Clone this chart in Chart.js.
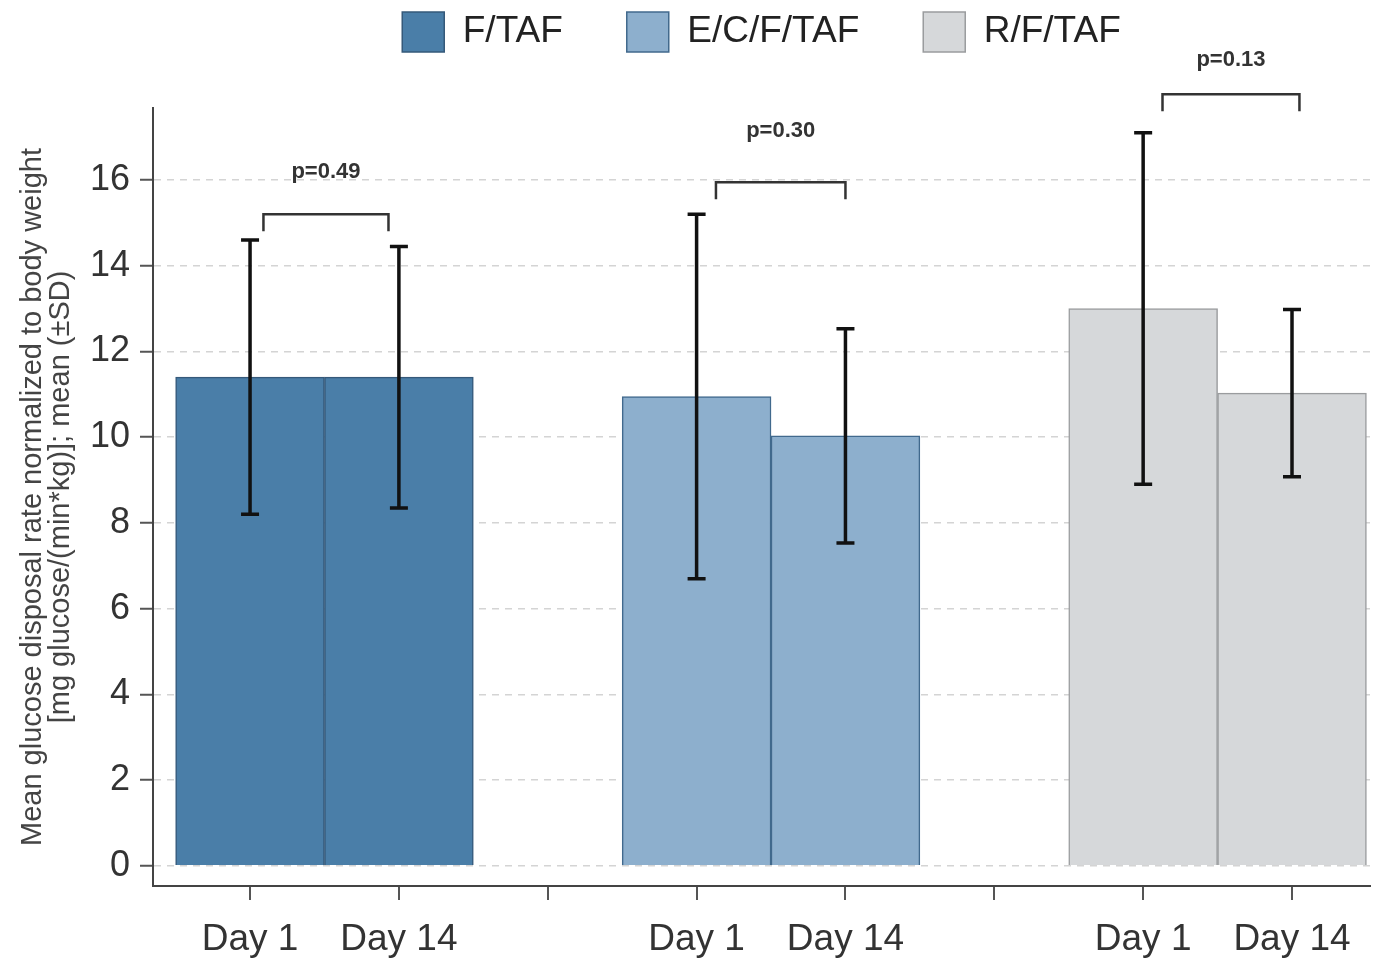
<!DOCTYPE html>
<html>
<head>
<meta charset="utf-8">
<script src="https://cdn.jsdelivr.net/npm/chart.js@4.4.1/dist/chart.umd.min.js"></script>
<style>
  html, body { margin: 0; padding: 0; background: #fff; }
  #wrap { width: 1373px; height: 962px; }
</style>
</head>
<body>
<div id="wrap"><canvas id="glucoseChart"></canvas></div>
<script>
// data
const groups = ['F/TAF', 'E/C/F/TAF', 'R/F/TAF'];
const xPositions = [[1, 2], [4, 5], [7, 8]];
const meanValues = [[11.4, 11.4], [10.95, 10.03], [13.0, 11.03]];
const sdValues = [[3.2, 3.05], [4.25, 2.5], [4.1, 1.95]];
const tickPositions = [1, 2, 3, 4, 5, 6, 7, 8];
const tickLabels = ['Day 1', 'Day 14', '', 'Day 1', 'Day 14', '', 'Day 1', 'Day 14'];
const yTicks = [0, 2, 4, 6, 8, 10, 12, 14, 16];
const pValues = ['p=0.49', 'p=0.30', 'p=0.13'];
const bracketLevels = [15.2, 15.95, 18.0];
const bracketSpans = [[1.09, 1.93], [4.13, 5.0], [7.13, 8.05]];
const pLabelLevels = [16.2, 17.15, 18.8];

const fills = ['#4a7ea8', '#8dafcd', '#d6d8da'];
const borders = ['#35597a', '#41698d', '#9a9c9e'];

Chart.defaults.font.family = '"Liberation Sans", Arial, sans-serif';

// error bars (mean ± SD)
const errorBars = {
    id: 'errorBars',
    afterDatasetsDraw(chart) {
        const {ctx, scales: {x, y}} = chart;
        ctx.save();
        ctx.strokeStyle = '#111';
        ctx.lineWidth = 3.5;
        groups.forEach((g, gi) => {
            xPositions[gi].forEach((xp, i) => {
                const px = x.getPixelForValue(xp);
                const top = y.getPixelForValue(meanValues[gi][i] + sdValues[gi][i]);
                const bot = y.getPixelForValue(meanValues[gi][i] - sdValues[gi][i]);
                ctx.beginPath();
                ctx.moveTo(px, top); ctx.lineTo(px, bot);
                ctx.moveTo(px - 9, top); ctx.lineTo(px + 9, top);
                ctx.moveTo(px - 9, bot); ctx.lineTo(px + 9, bot);
                ctx.stroke();
            });
        });
        ctx.restore();
    }
};

// p-value brackets
const brackets = {
    id: 'brackets',
    afterDatasetsDraw(chart) {
        const {ctx, scales: {x, y}} = chart;
        ctx.save();
        ctx.strokeStyle = '#333';
        ctx.fillStyle = '#333';
        ctx.lineWidth = 2.5;
        ctx.font = 'bold 22px "Liberation Sans", Arial, sans-serif';
        ctx.textAlign = 'center';
        ctx.textBaseline = 'middle';
        pValues.forEach((p, i) => {
            const x1 = x.getPixelForValue(bracketSpans[i][0]);
            const x2 = x.getPixelForValue(bracketSpans[i][1]);
            const by = y.getPixelForValue(bracketLevels[i]);
            ctx.beginPath();
            ctx.moveTo(x1, by + 17); ctx.lineTo(x1, by);
            ctx.lineTo(x2, by); ctx.lineTo(x2, by + 17);
            ctx.stroke();
            ctx.fillText(p, (x1 + x2) / 2, y.getPixelForValue(pLabelLevels[i]));
        });
        ctx.restore();
    }
};

// extra room under the legend
const legendSpacing = {
    id: 'legendSpacing',
    beforeLayout(chart) {
        const legend = chart.legend;
        if (legend && !legend._spaced) {
            const fit = legend.fit;
            legend.fit = function () {
                fit.call(this);
                this.height = 160;
            };
            legend._spaced = true;
        }
    }
};

new Chart(document.getElementById('glucoseChart'), {
    type: 'bar',
    data: {
        datasets: groups.map((g, gi) => ({
            label: g,
            data: xPositions[gi].map((xp, i) => ({x: xp, y: meanValues[gi][i]})),
            backgroundColor: fills[gi],
            borderColor: borders[gi],
            borderWidth: 1.5,
            barPercentage: 1,
            categoryPercentage: 1,
            grouped: false
        }))
    },
    options: {
        responsive: true,
        maintainAspectRatio: false,
        animation: false,
        layout: {padding: {top: -52, left: 0, right: 3, bottom: 0}},
        plugins: {
            legend: {
                position: 'top',
                fullSize: false,
                labels: {
                    boxWidth: 42,
                    boxHeight: 40,
                    padding: 64,
                    color: '#222',
                    font: {size: 37}
                }
            },
            tooltip: {enabled: false}
        },
        scales: {
            x: {
                type: 'linear',
                offset: false,
                min: 0.348,
                max: 8.524,
                afterBuildTicks: s => { s.ticks = tickPositions.map(v => ({value: v})); },
                afterFit: s => { s.height = 76; },
                ticks: {
                    callback: (v, i) => tickLabels[i],
                    autoSkip: false,
                    maxRotation: 0,
                    color: '#333',
                    padding: 18,
                    font: {size: 37}
                },
                grid: {offset: false, drawOnChartArea: false, tickColor: '#555', tickLength: 14, lineWidth: 2},
                border: {display: true, color: '#444', width: 2}
            },
            y: {
                min: -0.47,
                max: 17.68,
                afterBuildTicks: s => { s.ticks = yTicks.map(v => ({value: v})); },
                afterFit: s => { s.width = 153; },
                ticks: {color: '#333', padding: 10, font: {size: 36}},
                grid: {color: '#d4d4d4', lineWidth: 1.5, tickColor: '#555', tickLength: 13, tickBorderDash: [], tickWidth: 2},
                border: {display: true, color: '#444', width: 2, dash: [7, 6]},
                title: {
                    display: true,
                    text: ['Mean glucose disposal rate normalized to body weight', '[mg glucose/(min*kg)]; mean (\u00b1SD)'],
                    color: '#444',
                    font: {size: 29, lineHeight: 0.97},
                    padding: {top: 19, bottom: 0}
                }
            }
        }
    },
    plugins: [legendSpacing, errorBars, brackets]
});
</script>
</body>
</html>
